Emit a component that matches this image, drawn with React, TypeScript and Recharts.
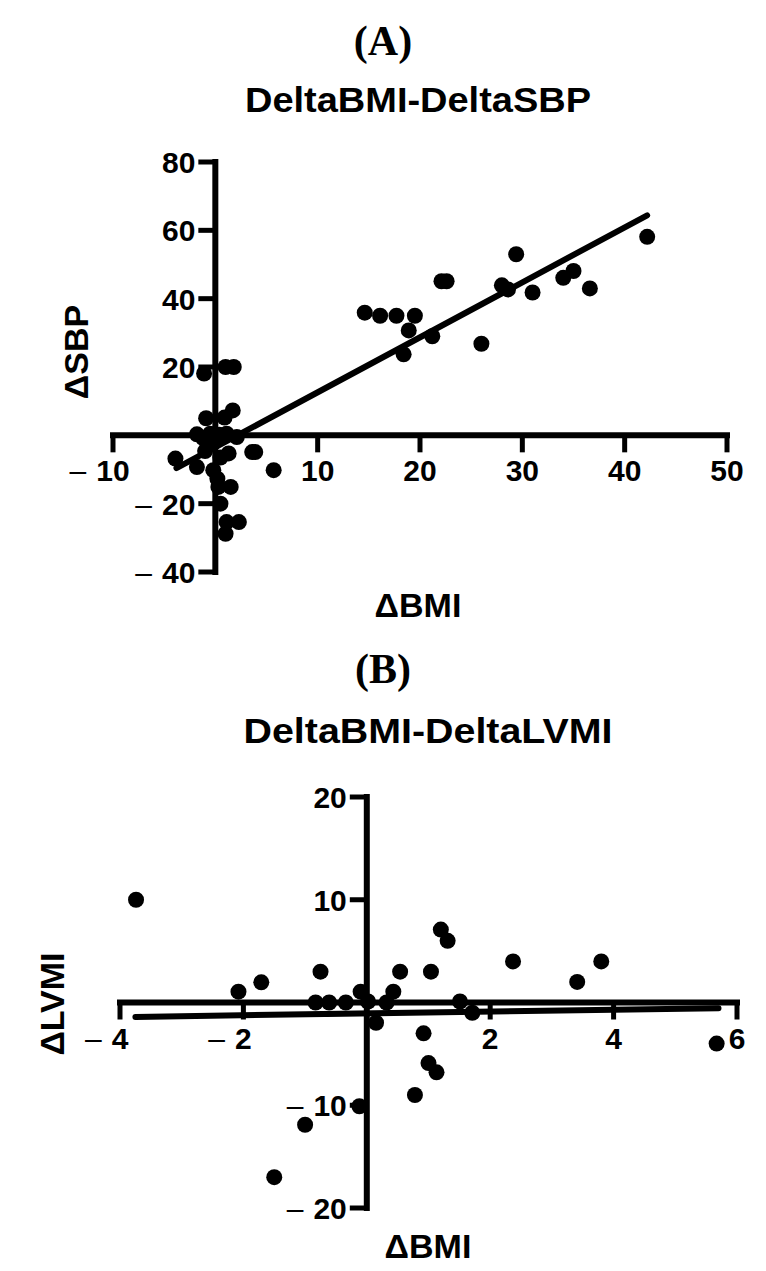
import React from 'react';
import { ScatterChart, Scatter, XAxis, YAxis, ReferenceLine, ReferenceDot } from 'recharts';

const SANS = '"Liberation Sans", Arial, Helvetica, sans-serif';
const SERIF = '"Liberation Serif", "Times New Roman", serif';

// ---------- Panel A: DeltaBMI vs DeltaSBP ----------
const pointsA = [
  { x: 14.6, y: 35.9 }, { x: 16.1, y: 35.0 }, { x: 17.7, y: 35.0 }, { x: 19.5, y: 35.0 },
  { x: 18.9, y: 30.7 }, { x: 18.4, y: 23.7 }, { x: 21.2, y: 29.0 }, { x: 22.1, y: 45.1 },
  { x: 22.6, y: 45.1 }, { x: 26.0, y: 26.8 }, { x: 29.4, y: 53.0 }, { x: 28.0, y: 43.9 },
  { x: 28.6, y: 42.7 }, { x: 31.0, y: 41.8 }, { x: 34.0, y: 46.1 }, { x: 35.0, y: 48.1 },
  { x: 36.6, y: 43.0 }, { x: 42.2, y: 58.1 },
  { x: -1.1, y: 18.1 }, { x: 1.0, y: 20.0 }, { x: 1.8, y: 20.0 },
  { x: 1.7, y: 7.3 }, { x: 0.9, y: 5.2 }, { x: -0.9, y: 5.0 },
  { x: -1.8, y: 0.3 }, { x: -0.5, y: 0.5 }, { x: 0.4, y: 0.2 }, { x: 1.1, y: 0.5 },
  { x: 2.1, y: -0.5 }, { x: -1.2, y: -0.8 }, { x: -0.2, y: -2.2 },
  { x: -1.0, y: -4.6 }, { x: 0.5, y: -6.5 }, { x: 1.3, y: -5.3 },
  { x: 3.6, y: -4.9 }, { x: 3.9, y: -4.9 }, { x: -3.9, y: -6.8 }, { x: -1.8, y: -9.3 },
  { x: 5.7, y: -10.2 }, { x: -0.2, y: -10.2 }, { x: 0.2, y: -12.7 }, { x: 0.3, y: -15.1 },
  { x: 1.5, y: -15.1 }, { x: 0.5, y: -20.0 }, { x: 1.1, y: -25.4 }, { x: 2.3, y: -25.4 },
  { x: 1.0, y: -28.8 },
];
const fitA = [{ x: -3.8, y: -9.6 }, { x: 42.2, y: 64.4 }];
const xDomainA = [-10, 50];
const yDomainA = [-40, 80];
const xTicksA = [-10, 10, 20, 30, 40, 50];
const yTicksA = [80, 60, 40, 20, -20, -40];

// ---------- Panel B: DeltaBMI vs DeltaLVMI ----------
const pointsB = [
  { x: -3.74, y: 10.0 }, { x: -2.08, y: 1.05 }, { x: -1.71, y: 1.96 }, { x: -0.75, y: 3.0 },
  { x: -0.83, y: 0 }, { x: -0.61, y: 0 }, { x: -0.34, y: 0 }, { x: -0.1, y: 1.05 },
  { x: 0.02, y: 0.1 }, { x: 0.15, y: -1.97 }, { x: 0.43, y: 1.05 }, { x: 0.32, y: 0 },
  { x: 0.54, y: 3.0 }, { x: -0.12, y: -10.1 }, { x: -1.0, y: -11.9 }, { x: 0.78, y: -9.0 },
  { x: 1.2, y: 7.1 }, { x: 1.31, y: 6.0 }, { x: 1.04, y: 3.0 }, { x: 1.51, y: 0.1 },
  { x: 1.71, y: -1.0 }, { x: 2.37, y: 4.0 }, { x: 3.41, y: 2.0 }, { x: 3.8, y: 4.0 },
  { x: 5.67, y: -4.0 }, { x: 0.92, y: -3.0 }, { x: 1.0, y: -5.9 }, { x: 1.13, y: -6.8 },
  { x: -1.5, y: -17.0 },
];
const fitB = [{ x: -3.75, y: -1.4 }, { x: 5.7, y: -0.55 }];
const xDomainB = [-4, 6];
const yDomainB = [-20, 20];
const xTicksB = [-4, -2, 2, 4, 6];
const yTicksB = [20, 10, -10, -20];

const TICK_FS = 30;
const DIGIT_W = 0.556 * TICK_FS;
const AXIS_W = 6;

function labelContent(v: number) {
  const digits = String(Math.abs(v));
  if (v < 0) {
    return [
      <tspan key="m" fontWeight={400}>{'\u2013'}</tspan>,
      <tspan key="d" dx={10}>{digits}</tspan>,
    ];
  }
  return digits;
}

const xTickShape = (v: number) => (props: any) => {
  const { cx, cy } = props;
  const dw = String(Math.abs(v)).length * DIGIT_W;
  return (
    <g>
      <line x1={cx} y1={cy} x2={cx} y2={cy + 17} stroke="#000" strokeWidth={AXIS_W - 1} />
      <text x={cx + dw / 2} y={cy + 46} textAnchor="end" fontFamily={SANS} fontWeight="bold" fontSize={TICK_FS} fill="#000">
        {labelContent(v)}
      </text>
    </g>
  );
};

const yTickShape = (v: number) => (props: any) => {
  const { cx, cy } = props;
  return (
    <g>
      <line x1={cx} y1={cy} x2={cx - 17} y2={cy} stroke="#000" strokeWidth={AXIS_W - 1} />
      <text x={cx - 20} y={cy + 11} textAnchor="end" fontFamily={SANS} fontWeight="bold" fontSize={TICK_FS} fill="#000">
        {labelContent(v)}
      </text>
    </g>
  );
};

const dot = (r: number) => (p: any) => <circle cx={p.cx} cy={p.cy} r={r} fill="#000" />;

function Panel(props: {
  width: number; height: number; margin: any;
  points: any[]; fit: any[]; xDomain: number[]; yDomain: number[];
  xTicks: number[]; yTicks: number[]; r: number;
}) {
  const { width, height, margin, points, fit, xDomain, yDomain, xTicks, yTicks, r } = props;
  return (
    <ScatterChart width={width} height={height} margin={margin}>
      <XAxis type="number" dataKey="x" domain={xDomain} allowDataOverflow hide />
      <YAxis type="number" dataKey="y" domain={yDomain} allowDataOverflow hide />
      <ReferenceLine
        segment={[{ x: xDomain[0], y: 0 }, { x: xDomain[1], y: 0 }]}
        stroke="#000" strokeWidth={AXIS_W} strokeLinecap="square" ifOverflow="visible"
      />
      <ReferenceLine
        segment={[{ x: 0, y: yDomain[0] }, { x: 0, y: yDomain[1] }]}
        stroke="#000" strokeWidth={AXIS_W} strokeLinecap="square" ifOverflow="visible"
      />
      {xTicks.map((v) => (
        <ReferenceDot key={'x' + v} x={v} y={0} ifOverflow="visible" shape={xTickShape(v)} />
      ))}
      {yTicks.map((v) => (
        <ReferenceDot key={'y' + v} x={0} y={v} ifOverflow="visible" shape={yTickShape(v)} />
      ))}
      <ReferenceLine
        segment={fit}
        stroke="#000" strokeWidth={AXIS_W} strokeLinecap="round" ifOverflow="visible"
      />
      <Scatter data={points} shape={dot(r)} isAnimationActive={false} />
    </ScatterChart>
  );
}

export default function App() {
  return (
    <div style={{ position: 'absolute', left: 0, top: 0, width: 766, height: 1271, background: '#fff' }}>
      <div style={{ position: 'absolute', left: 0, top: 0 }}>
        <Panel
          width={766} height={640}
          margin={{ top: 162, right: 39, bottom: 68, left: 113 }}
          points={pointsA} fit={fitA} xDomain={xDomainA} yDomain={yDomainA}
          xTicks={xTicksA} yTicks={yTicksA} r={8}
        />
      </div>
      <div style={{ position: 'absolute', left: 0, top: 640 }}>
        <Panel
          width={766} height={631}
          margin={{ top: 157, right: 29, bottom: 63, left: 120 }}
          points={pointsB} fit={fitB} xDomain={xDomainB} yDomain={yDomainB}
          xTicks={xTicksB} yTicks={yTicksB} r={8}
        />
      </div>
      <svg width={766} height={1271} style={{ position: 'absolute', left: 0, top: 0, pointerEvents: 'none' }}>
        <text x={383} y={55} textAnchor="middle" fontFamily={SERIF} fontWeight="bold" fontSize={42} fill="#000">(A)</text>
        <text x={418} y={112} textAnchor="middle" fontFamily={SANS} fontWeight="bold" fontSize={35} fill="#000"
          textLength={346} lengthAdjust="spacingAndGlyphs">DeltaBMI-DeltaSBP</text>
        <text transform="translate(76,352) rotate(-90)" x={0} y={12} textAnchor="middle" fontFamily={SANS} fontWeight="bold" fontSize={34} fill="#000">ΔSBP</text>
        <text x={418} y={617} textAnchor="middle" fontFamily={SANS} fontWeight="bold" fontSize={34} fill="#000">ΔBMI</text>

        <text x={383} y={683} textAnchor="middle" fontFamily={SERIF} fontWeight="bold" fontSize={42} fill="#000">(B)</text>
        <text x={428} y={743} textAnchor="middle" fontFamily={SANS} fontWeight="bold" fontSize={35} fill="#000"
          textLength={369} lengthAdjust="spacingAndGlyphs">DeltaBMI-DeltaLVMI</text>
        <text transform="translate(52,1004) rotate(-90)" x={0} y={12} textAnchor="middle" fontFamily={SANS} fontWeight="bold" fontSize={34} fill="#000">ΔLVMI</text>
        <text x={428} y={1258} textAnchor="middle" fontFamily={SANS} fontWeight="bold" fontSize={34} fill="#000">ΔBMI</text>
      </svg>
    </div>
  );
}
